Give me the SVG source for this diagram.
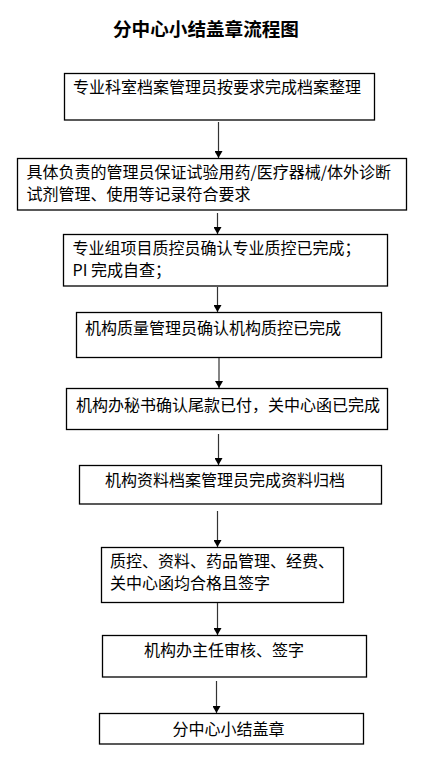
<svg xmlns="http://www.w3.org/2000/svg" width="444" height="769" viewBox="0 0 444 769">
<defs>
<marker id="ah" markerWidth="7" markerHeight="8" refX="7" refY="4" orient="auto" markerUnits="userSpaceOnUse">
<path d="M0,0 L7,4 L0,8 Z" fill="#000"/>
</marker>
<style>
.box{fill:#fff;stroke:#000;stroke-width:1.3}
.t{font-family:"Noto Sans CJK SC","Liberation Sans",sans-serif;font-size:16px;fill:#000}
.title{font-family:"Noto Sans CJK SC","Liberation Sans",sans-serif;font-size:18.6px;font-weight:bold;fill:#000}
.c{stroke:#333;stroke-width:1.2;fill:none;marker-end:url(#ah)}
</style>
</defs>
<rect width="444" height="769" fill="#fff"/>
<text class="title" x="113" y="36">分中心小结盖章流程图</text>
<g id="n1"><rect class="box" x="64.5" y="73.5" width="310" height="46.5"/><text class="t" x="73" y="93">专业科室档案管理员按要求完成档案整理</text></g>
<g id="n2"><rect class="box" x="17.5" y="158.5" width="389" height="51.5"/><text class="t" x="26.5" y="178">具体负责的管理员保证试验用药/医疗器械/体外诊断</text><text class="t" x="26.5" y="200">试剂管理、使用等记录符合要求</text></g>
<g id="n3"><rect class="box" x="63.5" y="234.5" width="324" height="51.5"/><text class="t" x="72.5" y="254">专业组项目质控员确认专业质控已完成；</text><text class="t" x="72.5" y="276">PI 完成自查；</text></g>
<g id="n4"><rect class="box" x="76.5" y="312.5" width="305" height="45"/><text class="t" x="85" y="334">机构质量管理员确认机构质控已完成</text></g>
<g id="n5"><rect class="box" x="66.5" y="388.5" width="321" height="41"/><text class="t" x="76" y="411">机构办秘书确认尾款已付，关中心函已完成</text></g>
<g id="n6"><rect class="box" x="79.5" y="465.5" width="302" height="38.5"/><text class="t" x="105" y="486">机构资料档案管理员完成资料归档</text></g>
<g id="n7"><rect class="box" x="101.5" y="547.5" width="242" height="55"/><text class="t" x="110" y="567">质控、资料、药品管理、经费、</text><text class="t" x="110" y="589">关中心函均合格且签字</text></g>
<g id="n8"><rect class="box" x="102.5" y="635.5" width="264" height="41.5"/><text class="t" x="144" y="656">机构办主任审核、签字</text></g>
<g id="n9"><rect class="box" x="99.5" y="713.5" width="264" height="30.5"/><text class="t" x="172.5" y="735">分中心小结盖章</text></g>
<g id="connectors">
<line class="c" x1="218.5" y1="122" x2="218.5" y2="158"/>
<line class="c" x1="217.5" y1="213" x2="217.5" y2="234"/>
<line class="c" x1="217.5" y1="287" x2="217.5" y2="312"/>
<line class="c" x1="219" y1="358" x2="219" y2="388"/>
<line class="c" x1="218.5" y1="434" x2="218.5" y2="465"/>
<line class="c" x1="217.5" y1="511" x2="217.5" y2="547"/>
<line class="c" x1="217.5" y1="603" x2="217.5" y2="635"/>
<line class="c" x1="216.5" y1="681" x2="216.5" y2="713"/>
</g>
</svg>
